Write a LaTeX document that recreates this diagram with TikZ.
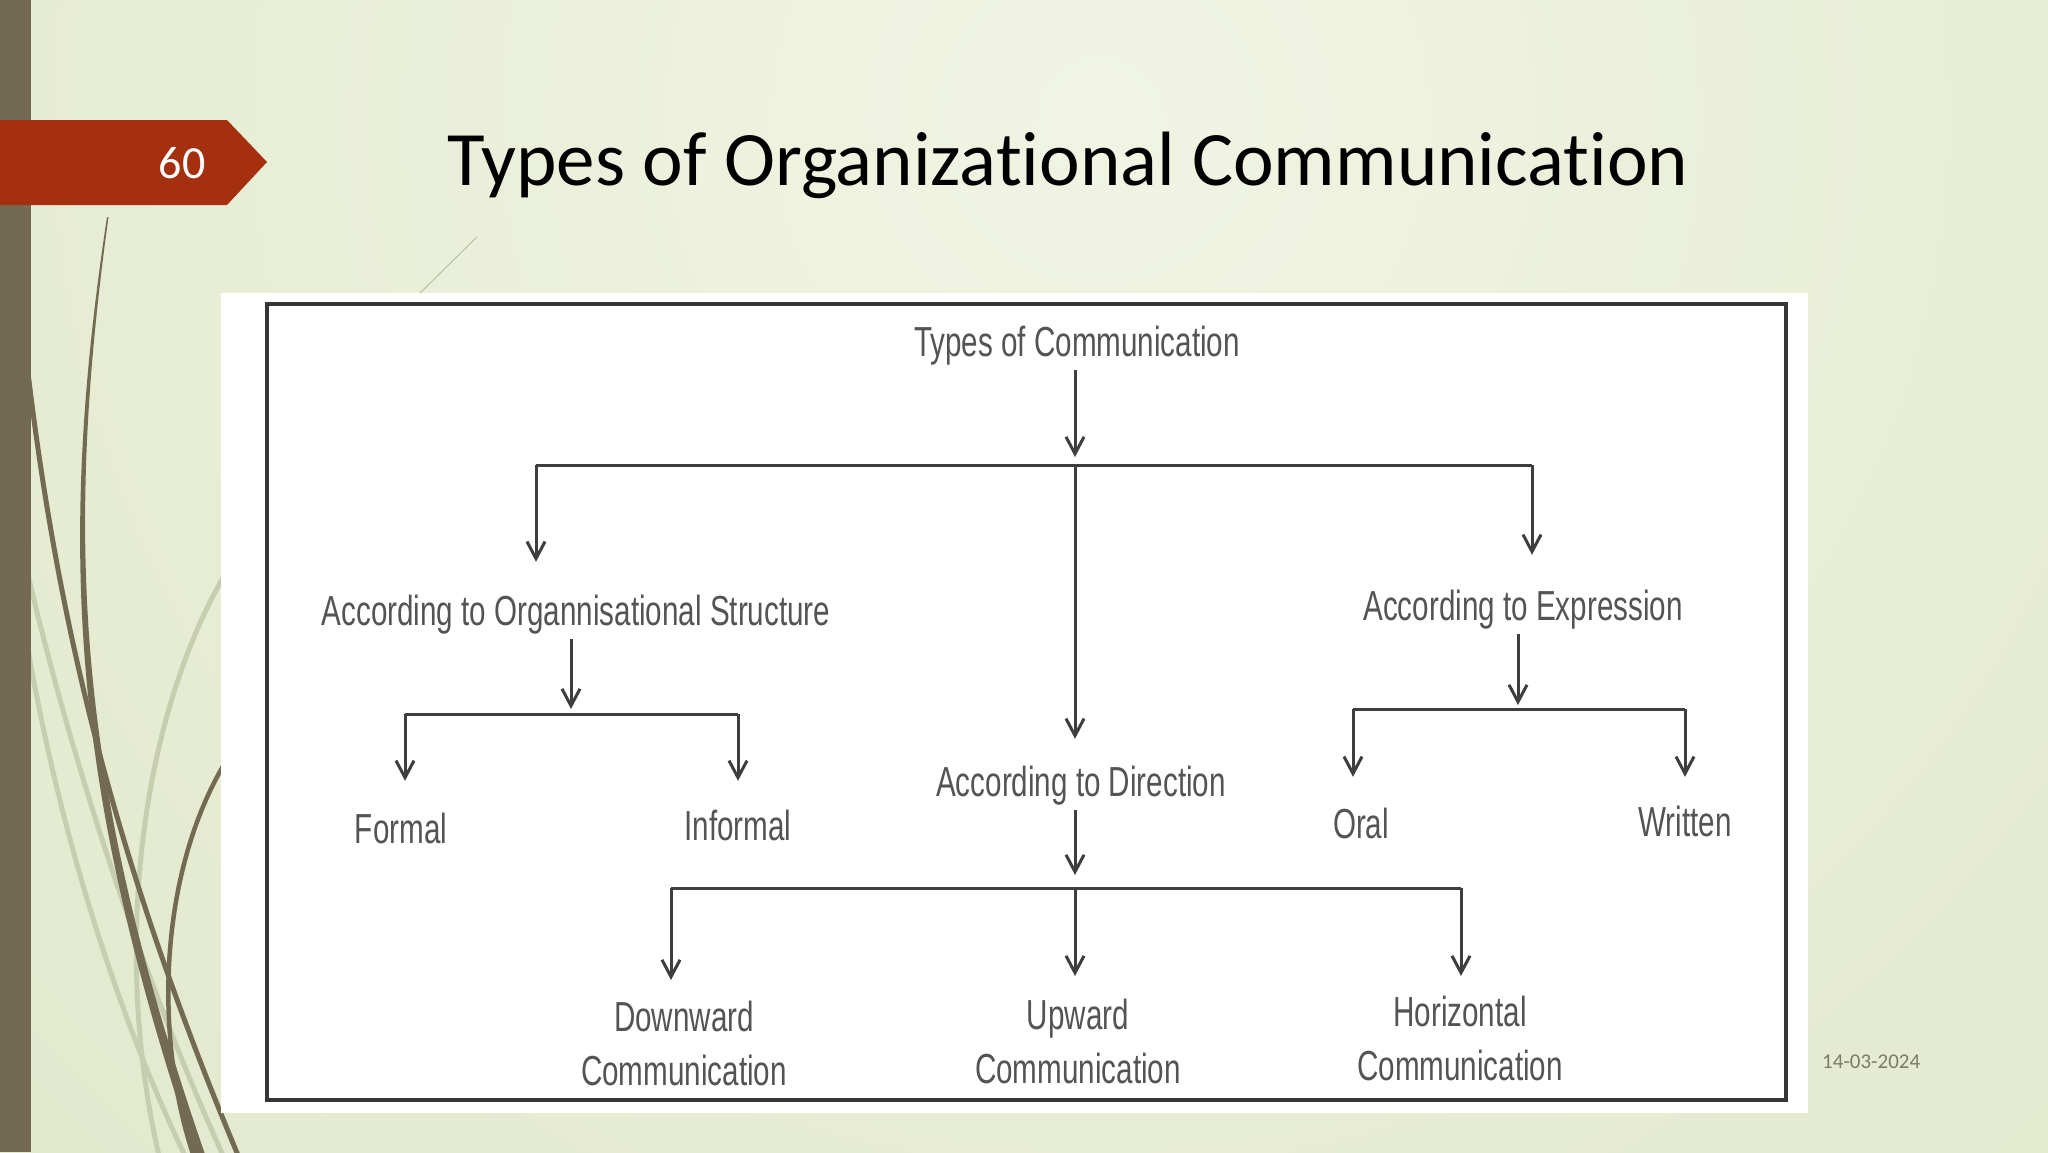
\documentclass[tikz,border=0pt]{standalone}
\usepackage{fontspec}
\setmainfont{Carlito}[Ligatures=NoCommon]
\newfontfamily\diagfont[FakeStretch=0.705]{Liberation Sans}
\usetikzlibrary{arrows.meta}
\definecolor{bgin}{HTML}{F1F4E3}
\definecolor{bgout}{HTML}{DDE5C5}
\definecolor{barc}{HTML}{736B51}
\definecolor{bannerc}{HTML}{A5300F}
\definecolor{lightc}{HTML}{C6CEAF}
\definecolor{thinc}{HTML}{B9C0A6}
\definecolor{labc}{HTML}{545454}
\definecolor{linec}{HTML}{3E3E3E}
\definecolor{framec}{HTML}{363636}
\definecolor{datec}{HTML}{7B7B68}
\begin{document}
\begin{tikzpicture}[x=1pt,y=-1pt,
  lab/.style={font=\diagfont\fontsize{42}{54}\selectfont, text=labc, inner xsep=2pt, inner ysep=5pt, text height=31pt, text depth=9pt, anchor=base},
  labtwo/.style={font=\diagfont\fontsize{42}{54}\selectfont, text=labc, inner xsep=2pt, inner ysep=5pt, align=center, anchor=north},
  conn/.style={draw=linec, line width=3pt},
  arr/.style={conn, -{Straight Barb[length=17pt,width=18pt]}},
  deco/.style={draw=barc, line cap=round},
  decolight/.style={draw=lightc, line width=5pt, line cap=round}]
\useasboundingbox (0,0) rectangle (2048,1152);
% background
\begin{scope}
\clip (0,0) rectangle (2048,1152);
\shade[inner color=bgin, outer color=bgout] (1100,120) circle (2000);
\end{scope}
% decorative curves
\draw[decolight] (20,540) .. controls (60,720) and (130,950) .. (225,1160);
\draw[decolight] (20,600) .. controls (50,800) and (110,1000) .. (187,1160);
\draw[decolight] (240,550) .. controls (140,700) and (110,950) .. (160,1160);
\draw[draw=thinc, line width=1pt] (477,237) -- (420,293);
\fill[barc] (107,217) .. controls (55,560) and (75,800) .. (197,1160) -- (207,1160) .. controls (82,800) and (61,560) .. (108.5,217) -- cycle;
\draw[deco, line width=5pt] (20,300) .. controls (50,600) and (110,850) .. (240,1160);
\draw[deco, line width=4.5pt] (240,740) .. controls (160,850) and (150,1030) .. (195,1160);
% left bar
\fill[barc] (0,0) rectangle (31,1152);
% banner
\fill[bannerc] (0,120) -- (227,120) -- (267,162) -- (227,205) -- (0,205) -- cycle;
\node[font=\fontsize{46}{50}\selectfont, text=white, anchor=base] (num) at (182,178) {60};
% title
\node[font=\fontsize{77}{90}\selectfont, anchor=base] (title) at (1068,185) {Types of Organizational Communication};
% date
\node[font=\fontsize{21}{24}\selectfont, text=datec, anchor=base west, inner sep=0pt] (date) at (1822,1068) {14-03-2024};
% picture panel
\fill[white] (221,293) rectangle (1808,1113);
\draw[framec, line width=4pt] (267,304) rectangle (1786,1100);
% labels
\node[lab] (toc) at (1077,356) {Types of Communication};
\node[lab] (org) at (576,625) {According to Organnisational Structure};
\node[lab] (expr) at (1523,620) {According to Expression};
\node[lab] (dir) at (1081,796) {According to Direction};
\node[lab] (formal) at (401,843) {Formal};
\node[lab] (informal) at (738,840) {Informal};
\node[lab] (oral) at (1361,838) {Oral};
\node[lab] (written) at (1685,836) {Written};
\node[labtwo] (down) at (684,996) {Downward\\Communication};
\node[labtwo] (up) at (1078,994) {Upward\\Communication};
\node[labtwo] (horiz) at (1460,991) {Horizontal\\Communication};
% junctions
\coordinate (j1l) at (536,465);
\coordinate (j1c) at (1075,465);
\coordinate (j1r) at (1532,465);
\coordinate (j2c) at (571,714);
\coordinate (j2l) at (405,714);
\coordinate (j2r) at (738,714);
\coordinate (j3c) at (1518,709);
\coordinate (j3l) at (1353,709);
\coordinate (j3r) at (1685,709);
\coordinate (j4c) at (1075,888);
\coordinate (j4l) at (671,888);
\coordinate (j4r) at (1461,888);
% connectors
\draw[arr, shorten >=8pt] (toc.south -| j1c) -- (j1c);
\draw[conn] (j1l) -- (j1r);
\draw[arr, shorten >=27pt] (j1l) -- (org.north -| j1l);
\draw[arr, shorten >=29pt] (j1r) -- (expr.north -| j1r);
\draw[arr, shorten >=21pt] (j1c) -- (dir.north -| j1c);
\draw[arr, shorten >=5pt] (org.south -| j2c) -- (j2c);
\draw[conn] (j2l) -- (j2r);
\draw[arr, shorten >=26pt] (j2l) -- (formal.north -| j2l);
\draw[arr, shorten >=23pt] (j2r) -- (informal.north -| j2r);
\draw[arr, shorten >=4pt] (expr.south -| j3c) -- (j3c);
\draw[conn] (j3l) -- (j3r);
\draw[arr, shorten >=25pt] (j3l) -- (oral.north -| j3l);
\draw[arr, shorten >=23pt] (j3r) -- (written.north -| j3r);
\draw[arr, shorten >=13pt] (dir.south -| j4c) -- (j4c);
\draw[conn] (j4l) -- (j4r);
\draw[arr, shorten >=16pt] (j4l) -- (down.north -| j4l);
\draw[arr, shorten >=18pt] (j4c) -- (up.north -| j4c);
\draw[arr, shorten >=15pt] (j4r) -- (horiz.north -| j4r);
\end{tikzpicture}
\end{document}
